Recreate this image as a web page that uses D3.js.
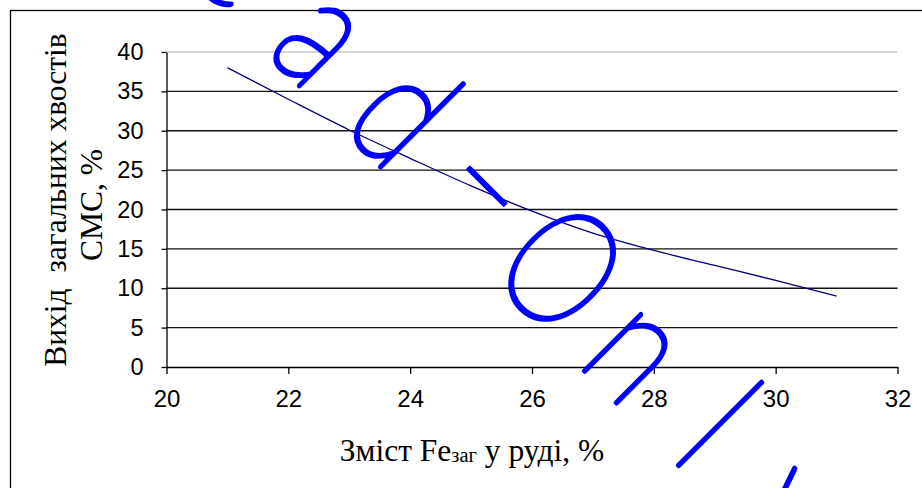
<!DOCTYPE html>
<html>
<head>
<meta charset="utf-8">
<script src="https://cdn.jsdelivr.net/npm/d3@7"></script>
<style>
  html, body { margin: 0; padding: 0; background: #fff; }
  svg { display: block; }
</style>
</head>
<body>
<svg id="chart" width="922" height="488"></svg>
<script>
// Fe content in ore, % (x) and yield of total tailings, % (y)
const feContent = [21, 22, 23, 24, 25, 26, 27, 28, 29, 30, 31];
const tailingsYield = [38.0, 34.0, 30.1, 26.5, 23.0, 19.8, 17.0, 14.8, 12.9, 11.0, 9.0];
const xTickValues = [20, 22, 24, 26, 28, 30, 32];
const yTickValues = [0, 5, 10, 15, 20, 25, 30, 35, 40];
const xTitleParts = ["Зміст Fe", "заг", " у руді, %"];
const yTitleLines = ["Вихід  загальних хвостів", "СМС, %"];
const stampText = "Read-Only";

const svg = d3.select("#chart");

const x = d3.scaleLinear().domain([20, 32]).range([166.5, 897.5]);
const y = d3.scaleLinear().domain([0, 40]).range([367, 52]);

// outer chart border (right and bottom edges fall outside the view)
svg.append("rect")
  .attr("x", 10.5).attr("y", 10.5)
  .attr("width", 940).attr("height", 500)
  .attr("fill", "#fff")
  .attr("stroke", "#000").attr("stroke-width", 1.3);

// horizontal gridlines
svg.append("g")
  .selectAll("line")
  .data(yTickValues.filter(v => v > 0))
  .join("line")
  .attr("x1", x(20)).attr("x2", x(32))
  .attr("y1", d => y(d)).attr("y2", d => y(d))
  .attr("stroke", d => d === 40 ? "#c8c8c8" : "#111")
  .attr("stroke-width", 1.4);

// y axis
const yAxis = svg.append("g")
  .attr("transform", `translate(${x(20)},0)`)
  .call(d3.axisLeft(y).tickValues(yTickValues).tickSize(5).tickPadding(18).tickSizeOuter(0));
yAxis.select(".domain").attr("stroke", "#000").attr("stroke-width", 1.3);
yAxis.selectAll(".tick line").attr("stroke", "#000").attr("stroke-width", 1.3);
yAxis.selectAll("text")
  .attr("font-family", "'Liberation Sans', Arial, sans-serif")
  .attr("font-size", 23.5).attr("fill", "#000");

// x axis
const xAxis = svg.append("g")
  .attr("transform", `translate(0,${y(0)})`)
  .call(d3.axisBottom(x).tickValues(xTickValues).tickSize(7).tickPadding(16).tickSizeOuter(0));
xAxis.select(".domain").attr("stroke", "#000").attr("stroke-width", 1.3);
xAxis.selectAll(".tick line").attr("stroke", "#000").attr("stroke-width", 1.3);
xAxis.selectAll("text")
  .attr("font-family", "'Liberation Sans', Arial, sans-serif")
  .attr("font-size", 24).attr("fill", "#000");

// data line
const line = d3.line()
  .x((d, i) => x(feContent[i]))
  .y(d => y(d))
  .curve(d3.curveMonotoneX);
svg.append("path")
  .datum(tailingsYield)
  .attr("d", line)
  .attr("fill", "none")
  .attr("stroke", "#000080")
  .attr("stroke-width", 1.3);

// x axis title with subscript
const xt = svg.append("text")
  .attr("x", 472).attr("y", 461)
  .attr("text-anchor", "middle")
  .attr("font-family", "'Liberation Serif', 'Times New Roman', serif")
  .attr("font-size", 31.5).attr("fill", "#000")
  .style("white-space", "pre");
xt.append("tspan").text(xTitleParts[0]);
xt.append("tspan").attr("font-size", 20.5).attr("dy", 1).text(xTitleParts[1]);
xt.append("tspan").attr("dy", -1).text(xTitleParts[2]);

// y axis title, two rotated lines
const yTitleCenters = [200, 205];
const yTitleBaselines = [66, 101.5];
yTitleLines.forEach((t, i) => {
  svg.append("text")
    .attr("transform", `translate(${yTitleBaselines[i]},${yTitleCenters[i]}) rotate(-90)`)
    .attr("text-anchor", "middle")
    .attr("font-family", "'Liberation Serif', 'Times New Roman', serif")
    .attr("font-size", 31.5).attr("fill", "#000")
    .style("white-space", "pre")
    .text(t);
});

// diagonal stamp across the chart: hairline glyphs thickened by a round stroke,
// laid out on a fixed character pitch and narrowed horizontally
const stampSize = 163, stampPitch = 111, stampNarrow = 0.78, stampAnchorIndex = 5;
const stamp = svg.append("g")
  .attr("transform", `translate(563,267) rotate(45) scale(${stampNarrow},1)`)
  .append("text")
  .attr("font-family", "Lato, 'Noto Sans', sans-serif")
  .attr("font-weight", 100)
  .attr("font-size", stampSize)
  .attr("fill", "#0000ff")
  .attr("stroke", "#0000ff")
  .attr("stroke-width", 5)
  .attr("stroke-linejoin", "round")
  .attr("stroke-linecap", "round")
  .attr("vector-effect", "non-scaling-stroke")
  .attr("text-anchor", "middle");
Array.from(stampText).forEach((ch, i) => {
  const dash = ch === "-";
  const ts = stamp.append("tspan")
    .attr("x", (i - stampAnchorIndex) * stampPitch / stampNarrow)
    .attr("y", dash ? 85 : stampSize * 0.358)
    .text(ch);
  // the dash is drawn longer, level with the capital's centre
  if (dash) ts.attr("font-size", 300).attr("stroke-width", 3);
});
</script>
</body>
</html>
